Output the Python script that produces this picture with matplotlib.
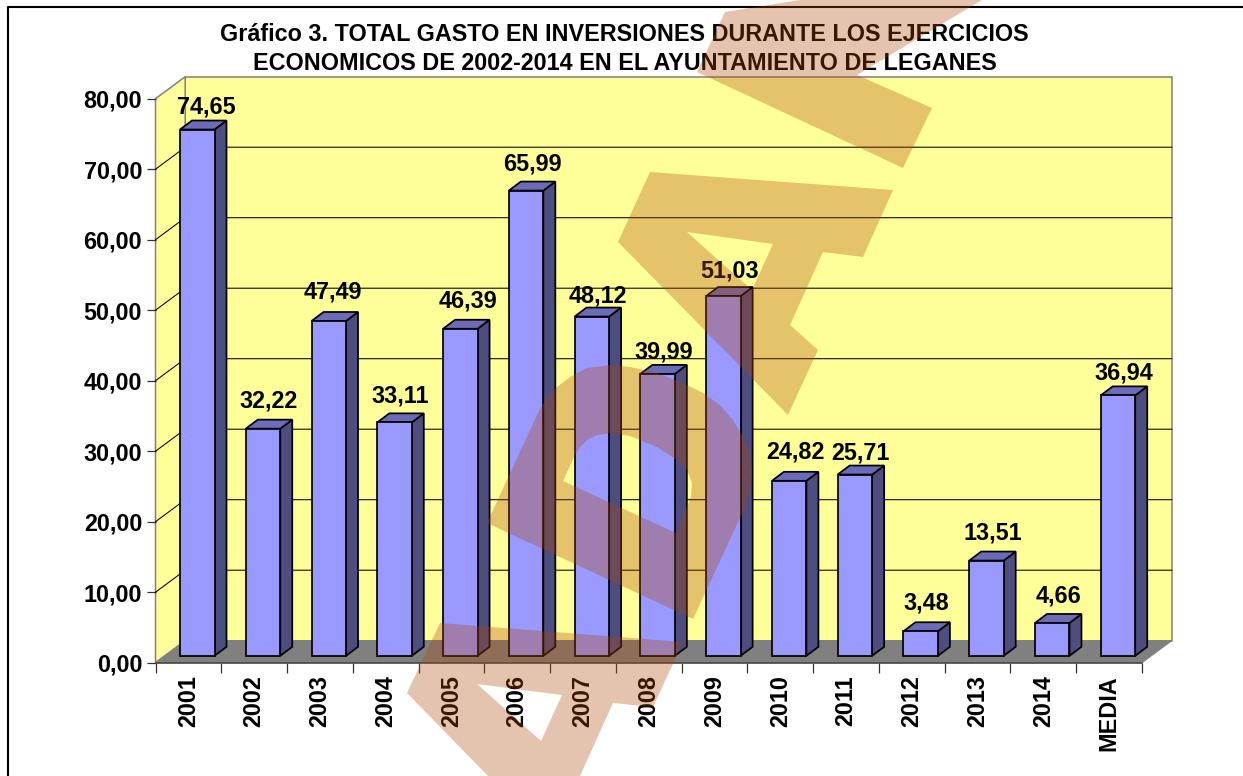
import matplotlib
matplotlib.use("Agg")
import matplotlib.pyplot as plt
from matplotlib.lines import Line2D
from matplotlib.patches import PathPatch
from matplotlib.path import Path

W, H = 1243, 776

categories = ["2001", "2002", "2003", "2004", "2005", "2006", "2007", "2008",
              "2009", "2010", "2011", "2012", "2013", "2014", "MEDIA"]
values = [74.65, 32.22, 47.49, 33.11, 46.39, 65.99, 48.12, 39.99,
          51.03, 24.82, 25.71, 3.48, 13.51, 4.66, 36.94]
y_ticks = [0, 10, 20, 30, 40, 50, 60, 70, 80]
y_tick_labels = ["0,00", "10,00", "20,00", "30,00", "40,00",
                 "50,00", "60,00", "70,00", "80,00"]
title = ("Gráfico 3. TOTAL GASTO EN INVERSIONES DURANTE LOS EJERCICIOS\n"
         "ECONOMICOS DE 2002-2014 EN EL AYUNTAMIENTO DE LEGANES")

# ajuste fino de las etiquetas, en pixeles (y hacia abajo)
label_nudge_x = [3, 0, -2, 0, 2, 0, 0, 0, 0, 0, 0, 0, 0, 0, 0]
label_nudge_y = [3, -2, -3, 0, -2, -1, 5, 4, 1, -3, 4, -2, -2, -1, 4]

# marca de agua (pixeles de la imagen, y hacia abajo)
wm_a1 = [(725, 12), (800, 0), (982, 0), (857, 75), (932, 108), (903, 168), (697, 72)]
wm_a2 = [(650, 172), (893, 190), (863, 257), (823, 252), (790, 325), (818, 350),
         (788, 415), (618, 242)]
wm_a2_hole = [(687, 232), (773, 244), (752, 290)]
wm_d = [(487, 523), (538, 413), (545, 400), (557, 387), (570, 377), (587, 368), (610, 365),
        (630, 367), (657, 373), (683, 383), (703, 393), (720, 405), (733, 420), (743, 437),
        (750, 453), (752, 473), (750, 490), (745, 507), (693, 619)]
wm_d_hole = [(563, 481), (574, 457), (580, 447), (587, 440), (597, 435), (610, 433),
             (630, 436), (657, 447), (677, 460), (687, 470), (692, 483), (691, 497), (676, 533)]
wm_a3 = [(440, 623), (683, 642), (653, 707), (613, 703), (580, 776), (488, 776), (407, 693)]
wm_a3_hole = [(477, 684), (562, 695), (541, 741)]

WALL = "#FFFF99"
FLOOR = "#808080"
EDGE = "#808080"
FRONT = "#9999FF"
SIDE = "#4D4D80"
TOP = "#6B6BB8"

plt.rcParams["font.family"] = ["Liberation Sans", "DejaVu Sans"]
plt.rcParams["font.weight"] = "bold"

fig = plt.figure(figsize=(W / 100, H / 100), dpi=100)
left, right, top, bottom = 155.5, 1142.0, 98.7, 662.7
ax = fig.add_axes([left / W, 1 - bottom / H, (right - left) / W, (bottom - top) / H])
ax.set_xlim(0, len(categories))
ax.set_ylim(0, 80)
ax.patch.set_visible(False)
for s in ax.spines.values():
    s.set_visible(False)

# pasos en pixeles -> unidades de datos
ux = (right - left) / len(categories)
uy = (bottom - top) / 80
depth_x, depth_y = 29.7 / ux, 22.0 / uy
bar_w = 34.5 / ux
bar_off = 24.5 / ux
bar_floor = 6.9 / uy
top_x, top_y = 12.0 / ux, 9.0 / uy
n = len(categories)

# paredes y suelo
ax.fill([depth_x, n + depth_x, n + depth_x, depth_x], [depth_y, depth_y, 80 + depth_y, 80 + depth_y],
        facecolor=WALL, edgecolor=EDGE, lw=1.1, clip_on=False, zorder=1)
ax.fill([0, depth_x, depth_x, 0], [0, depth_y, 80 + depth_y, 80],
        facecolor=WALL, edgecolor=EDGE, lw=1.1, clip_on=False, zorder=1)
ax.fill([0, n, n + depth_x, depth_x], [0, 0, depth_y, depth_y],
        facecolor=FLOOR, edgecolor=EDGE, lw=0.8, clip_on=False, zorder=2)

for v in y_ticks[1:-1]:
    ax.plot([0, depth_x, n + depth_x], [v, v + depth_y, v + depth_y],
            color="black", lw=0.75, clip_on=False, zorder=2)

xs = [i + bar_off for i in range(n)]
ax.bar(xs, values, bar_w, bottom=bar_floor, align="edge", facecolor=FRONT,
       edgecolor="black", lw=1.25, clip_on=False, zorder=4)
for x, v, nx, ny in zip(xs, values, label_nudge_x, label_nudge_y):
    x1 = x + bar_w
    y0 = bar_floor
    y1 = bar_floor + v
    ax.fill([x1, x1 + top_x, x1 + top_x, x1], [y0, y0 + top_y, y1 + top_y, y1],
            facecolor=SIDE, edgecolor="black", lw=1.25, clip_on=False, zorder=3)
    ax.fill([x, x + top_x, x1 + top_x, x1], [y1, y1 + top_y, y1 + top_y, y1],
            facecolor=TOP, edgecolor="black", lw=1.25, clip_on=False, zorder=3)
    ax.text(x + (bar_w + top_x) / 2 + nx / ux, y1 + (26 - ny) / uy, f"{v:.2f}".replace(".", ","),
            ha="center", va="center", fontsize=16.8, fontweight="bold", zorder=5)

ax.set_yticks(y_ticks)
ax.set_yticklabels(y_tick_labels, fontsize=16.8, fontweight="bold")
ax.tick_params(axis="y", length=6.6, width=0.9, color="#333333", pad=3)
ax.set_xticks(range(n + 1))
ax.set_xticklabels([])
ax.tick_params(axis="x", which="major", length=7, width=0.9, color="#333333")
ax.set_xticks([i + 0.5 for i in range(n)], minor=True)
ax.set_xticklabels(categories, minor=True, rotation=90, fontsize=16.8, fontweight="bold")
ax.tick_params(axis="x", which="minor", length=0, pad=9)
ax.axhline(0, color="#404040", lw=1.1, clip_on=False, zorder=3)

fig.text(624.5 / W, 1 - 48.8 / H, title, ha="center", va="center", fontsize=16.8,
         fontweight="bold", linespacing=1.36)

# marco
fig.add_artist(Line2D([7.5 / W, 7.5 / W, 1], [0, 1 - 6.5 / H, 1 - 6.5 / H],
                      transform=fig.transFigure, color="black", lw=1.5, zorder=6))


def ring(points, clockwise):
    area = sum(points[i][0] * points[(i + 1) % len(points)][1] -
               points[(i + 1) % len(points)][0] * points[i][1] for i in range(len(points)))
    pts = list(points) if (area > 0) == clockwise else list(reversed(points))
    pts = [(x / W, 1 - y / H) for x, y in pts]
    return pts + [pts[0]], [Path.MOVETO] + [Path.LINETO] * (len(pts) - 1) + [Path.CLOSEPOLY]


def watermark(outer, hole=None):
    verts, codes = ring(outer, True)
    if hole:
        hv, hc = ring(hole, False)
        verts += hv
        codes += hc
    fig.add_artist(PathPatch(Path(verts, codes), transform=fig.transFigure,
                             facecolor="#AE4608", edgecolor="none", alpha=0.32, zorder=10))


watermark(wm_a1)
watermark(wm_a2, wm_a2_hole)
watermark(wm_d, wm_d_hole)
watermark(wm_a3, wm_a3_hole)

fig.savefig("out.png", dpi=100)
